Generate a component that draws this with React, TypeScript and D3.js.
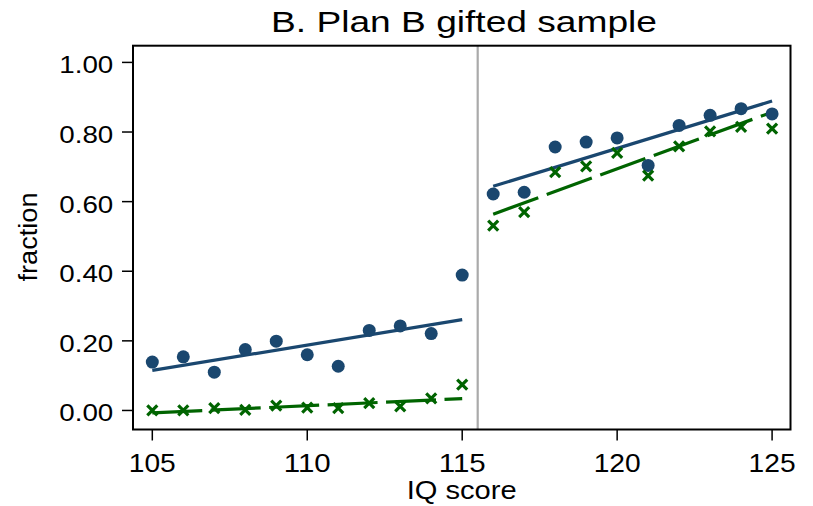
import React from "react";
import * as d3 from "d3";

const iqLeft = [105, 106, 107, 108, 109, 110, 111, 112, 113, 114, 115];
const iqRight = [116, 117, 118, 119, 120, 121, 122, 123, 124, 125];
const blueLeft = [0.139, 0.154, 0.11, 0.175, 0.199, 0.16, 0.127, 0.23, 0.243, 0.221, 0.389];
const greenLeft = [0.0, 0.0, 0.007, 0.002, 0.014, 0.008, 0.007, 0.021, 0.012, 0.035, 0.074];
const blueRight = [0.622, 0.627, 0.757, 0.771, 0.783, 0.704, 0.819, 0.848, 0.867, 0.852];
const greenRight = [0.531, 0.57, 0.685, 0.701, 0.74, 0.675, 0.759, 0.802, 0.815, 0.81];
const blueFitLeft = [0.115, 0.261];
const greenFitLeft = [-0.007, 0.034];
const blueFitRight = [0.644, 0.889];
const greenFitRight = [0.564, 0.857];
const xTicks = [105, 110, 115, 120, 125];
const yTicks = [0, 0.2, 0.4, 0.6, 0.8, 1.0];
const cutoff = 115.5;

const W = 813;
const H = 506;
const FONT = "'Liberation Sans', Arial, Helvetica, sans-serif";
const BLUE = "#1a476f";
const GREEN = "#006400";

export default function App() {
  const left = 133, right = 790.5, top = 45.7, bottom = 429.5;
  const x = d3.scaleLinear().domain([104.377, 125.594]).range([left, right]);
  const y = d3.scaleLinear().domain([-0.0547, 1.048]).range([bottom, top]);
  const line = d3.line<[number, number]>().x((d) => x(d[0])).y((d) => y(d[1]));

  const fitSeg = (xs: number[], vals: number[]): [number, number][] => [
    [xs[0], vals[0]],
    [xs[xs.length - 1], vals[1]],
  ];

  const xMark = (cx: number, cy: number, k: string) => {
    const s = 5;
    return (
      <path
        key={k}
        d={`M${cx - s},${cy - s}L${cx + s},${cy + s}M${cx - s},${cy + s}L${cx + s},${cy - s}`}
        stroke={GREEN}
        strokeWidth={3.2}
        fill="none"
      />
    );
  };

  return (
    <svg
      width={W}
      height={H}
      style={{ position: "absolute", left: 0, top: 0, background: "#fff" }}
      fontFamily={FONT}
    >
      <rect x={0} y={0} width={W} height={H} fill="#fff" />
      <text x={464} y={32} fontSize={30} textAnchor="middle" textLength={386} lengthAdjust="spacingAndGlyphs" fill="#000">
        B. Plan B gifted sample
      </text>

      {/* vertical cutoff line */}
      <line x1={x(cutoff)} x2={x(cutoff)} y1={top} y2={bottom} stroke="#aaaaaa" strokeWidth={2.2} />

      {/* fit lines */}
      <path d={line(fitSeg(iqLeft, blueFitLeft)) || ""} stroke={BLUE} strokeWidth={3.2} fill="none" />
      <path d={line(fitSeg(iqRight, blueFitRight)) || ""} stroke={BLUE} strokeWidth={3.2} fill="none" />
      <path d={line(fitSeg(iqLeft, greenFitLeft)) || ""} stroke={GREEN} strokeWidth={3.2} fill="none" strokeDasharray="50 8.5" />
      <path d={line(fitSeg(iqRight, greenFitRight)) || ""} stroke={GREEN} strokeWidth={3.2} fill="none" strokeDasharray="48 9" />

      {/* blue dots */}
      {iqLeft.map((v, i) => (
        <circle key={"bl" + i} cx={x(v)} cy={y(blueLeft[i])} r={6.5} fill={BLUE} />
      ))}
      {iqRight.map((v, i) => (
        <circle key={"br" + i} cx={x(v)} cy={y(blueRight[i])} r={6.5} fill={BLUE} />
      ))}
      {/* green x markers */}
      {iqLeft.map((v, i) => xMark(x(v), y(greenLeft[i]), "gl" + i))}
      {iqRight.map((v, i) => xMark(x(v), y(greenRight[i]), "gr" + i))}

      {/* frame */}
      <rect x={left} y={top} width={right - left} height={bottom - top} fill="none" stroke="#000" strokeWidth={2} />

      {/* y axis ticks */}
      {yTicks.map((t) => (
        <g key={"yt" + t}>
          <line x1={left - 11} x2={left} y1={y(t)} y2={y(t)} stroke="#000" strokeWidth={1.5} />
          <text x={113.3} y={y(t) + 11} fontSize={24} textAnchor="end" textLength={54} lengthAdjust="spacingAndGlyphs" fill="#000">
            {t.toFixed(2)}
          </text>
        </g>
      ))}
      {/* x axis ticks */}
      {xTicks.map((t) => (
        <g key={"xt" + t}>
          <line x1={x(t)} x2={x(t)} y1={bottom} y2={bottom + 11} stroke="#000" strokeWidth={1.5} />
          <text x={x(t)} y={472} fontSize={26} textAnchor="middle" textLength={47} lengthAdjust="spacingAndGlyphs" fill="#000">
            {String(t)}
          </text>
        </g>
      ))}

      <text x={461.7} y={498.5} fontSize={25.5} textAnchor="middle" textLength={110} lengthAdjust="spacingAndGlyphs" fill="#000">
        IQ score
      </text>
      <text
        transform={`translate(37,237) rotate(-90)`}
        fontSize={25}
        textAnchor="middle"
        textLength={89}
        lengthAdjust="spacingAndGlyphs"
        fill="#000"
      >
        fraction
      </text>
    </svg>
  );
}
